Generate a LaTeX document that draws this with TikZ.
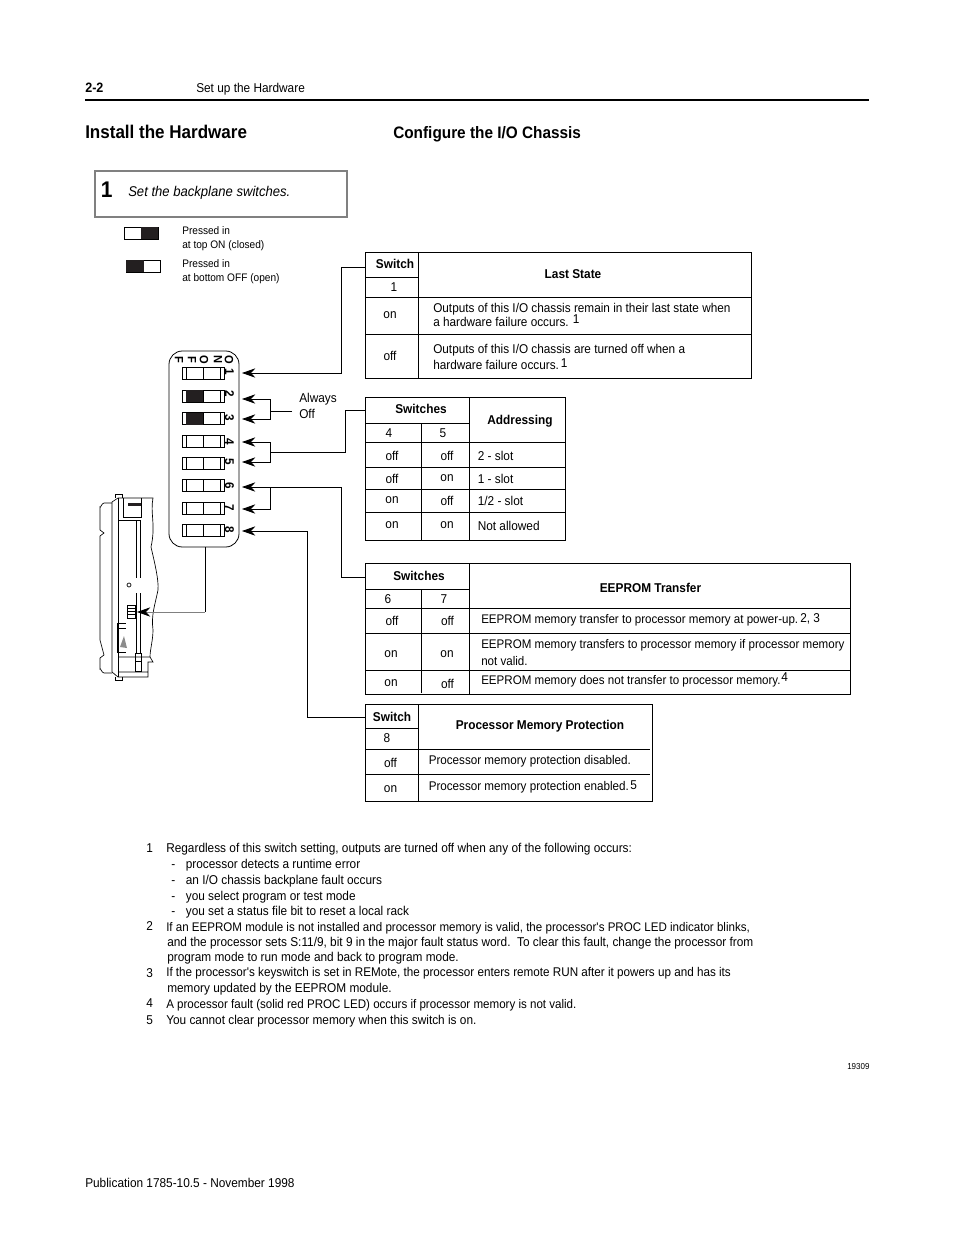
\documentclass[tikz,border=0pt]{standalone}
\usepackage{fontspec}
\setmainfont[FakeStretch=0.925]{Liberation Sans}
\usetikzlibrary{arrows.meta}
\definecolor{boxgray}{RGB}{128,128,128}
\definecolor{swdark}{RGB}{35,31,32}
\tikzset{
  txt/.style={anchor=west,inner sep=0pt,font=\fontsize{9.6}{11.6}\selectfont,align=left},
  hdr/.style={inner sep=0pt,font=\bfseries\fontsize{9.6}{11.6}\selectfont,align=center},
  cell/.style={inner sep=0pt,font=\fontsize{9.6}{11.6}\selectfont},
  note/.style={anchor=base west,inner sep=0pt,font=\fontsize{9.6}{11.6}\selectfont},
  tight/.style={font=\fontsize{9.38}{11.6}\selectfont},
  fnote/.style={anchor=base west,inner sep=0pt,font=\fontsize{9.6}{12}\selectfont},
  swnum/.style={inner sep=0pt,rotate=-90,font=\bfseries\fontsize{9.5}{10}\selectfont},
  swhead/.style={inner sep=0pt,rotate=-90,font=\bfseries\fontsize{9}{10}\selectfont},
  lnk/.style={line width=0.6pt,-{Stealth[length=10pt,width=7pt]}},
  plain/.style={line width=0.6pt},
  grid/.style={line width=0.6pt},
  thinline/.style={line width=0.5pt},
}
\begin{document}
\begin{tikzpicture}[x=0.75pt,y=0.75pt,yscale=-1,xscale=1]
	\useasboundingbox (0,0) rectangle (954,1235);
	% page head
	\node [anchor=base west,inner sep=0pt,font=\bfseries\fontsize{10.2}{11}\selectfont] (pagenum) at (85,92) {2-2};
	\node [note] (headline) at (196,92) {Set up the Hardware};
	\draw [line width=1.3pt] (85,100) -- (869,100);
	\node [anchor=base west,inner sep=0pt,font=\bfseries\fontsize{13.8}{16}\selectfont] (install) at (85,138.5) {Install the Hardware};
	\node [anchor=base west,inner sep=0pt,font=\bfseries\fontsize{12.45}{16}\selectfont] (configure) at (393,138.5) {Configure the I/O Chassis};
	% step box
	\draw [boxgray,line width=2pt] (95,171) rectangle (347,217);
	\node [anchor=base west,inner sep=0pt,font=\bfseries\fontsize{17}{20}\selectfont] (stepnum) at (100.5,197) {1};
	\node [note,font=\itshape\fontsize{10.6}{12}\selectfont] (steptxt) at (128,196) {Set the backplane switches.};
	% legend
	\draw [line width=0.7pt] (124,227) rectangle (158,239);
	\fill [swdark] (141,227) rectangle (158,239);
	\draw [line width=0.7pt] (126,260) rectangle (160,272);
	\fill [swdark] (126,260) rectangle (144,272);
	\node [txt,font=\fontsize{8.2}{10.5}\selectfont] (legon) at (182,238.5) {Pressed in\\at top ON (closed)};
	\node [txt,font=\fontsize{8.2}{10.5}\selectfont] (legoff) at (182,271.5) {Pressed in\\at bottom OFF (open)};
	% switch block
	\draw [plain,rounded corners=10pt] (169,351) rectangle (239,547);
	\foreach \l/\x [count=\i] in {O/229,N/218,O/204,F/192,F/179}{
		\node [swhead] (head\i) at (\x,360) {\l};
	}
	\foreach \n/\top/\ynum/\ytip in {1/367/372/373,2/390/394/399,3/412.5/418/419,4/435/442/442,5/457/462/462,6/479/486/487,7/502/508/509,8/524.5/530/531}{
		\draw [plain] (182,\top) rectangle (224,\top+12);
		\draw [plain] (186,\top) -- (186,\top+12) (203,\top) -- (203,\top+12) (220,\top) -- (220,\top+12);
		\node [swnum] (sw\n) at (229.5,\ynum) {\n};
		\coordinate (tip\n) at (242,\ytip);
	}
	\fill [swdark] (186,390) rectangle (203,402);
	\fill [swdark] (186,412.5) rectangle (203,424.5);
	% always off
	\node [txt,font=\fontsize{9.6}{12}\selectfont] (always) at (299,406) {Always\\Off};
	\coordinate (j23) at (270,411);
	\coordinate (offend) at (292,411);
	\draw [plain] (offend) -- (j23);
	\draw [lnk] (j23) |- (tip2);
	\draw [lnk] (j23) |- (tip3);
	% tables and their links
	\coordinate (t1) at (365.5,267);
	\coordinate (t2) at (365.5,410);
	\coordinate (t3) at (365.5,577);
	\coordinate (t4) at (365.5,717);
	\coordinate (j45) at (270,452);
	\coordinate (j67) at (270,487);
	\draw [lnk] (t1) -- (341,267) |- (tip1);
	\draw [plain] (t2) -- (345,410) |- (j45);
	\draw [lnk] (j45) |- (tip4);
	\draw [lnk] (j45) |- (tip5);
	\draw [lnk] (t3) -- (341,577) |- (tip6);
	\draw [lnk] (j67) |- (tip7);
	\draw [lnk] (t4) -- (307,717) |- (tip8);
	% Last State
	\draw [grid] (365.5,252.5) rectangle (751,378);
	\draw [grid] (418,252.5) -- (418,378) (365.5,277) -- (418,277) (365.5,297) -- (751,297) (365.5,334) -- (751,334);
	\node [hdr] (h1a) at (395,264) {Switch};
	\node [hdr] (h1b) at (573,274) {Last State};
	\node [cell] (c1a) at (394,287) {1};
	\node [cell] (c1b) at (390,315) {on};
	\node [cell] (c1c) at (390,356) {off};
	\node [txt,font=\fontsize{9.55}{10.9}\selectfont] (c1d) at (433,315) {Outputs of this I/O chassis remain in their last state when\\a hardware failure occurs.};
	\node [fnote] (f1a) at (572.5,323) {1};
	\node [txt,font=\fontsize{9.55}{12}\selectfont] (c1e) at (433,357) {Outputs of this I/O chassis are turned off when a\\hardware failure occurs.};
	\node [fnote] (f1b) at (560.5,367) {1};
	% Addressing
	\draw [grid] (365.5,397.5) rectangle (565,540);
	\draw [grid] (421,423) -- (421,540) (469,397.5) -- (469,540) (365.5,423) -- (469,423) (365.5,442) -- (565,442)
		(365.5,467) -- (565,467) (365.5,489) -- (565,489) (365.5,512) -- (565,512);
	\node [hdr] (h2a) at (421,409) {Switches};
	\node [hdr] (h2b) at (520,421) {Addressing};
	\node [cell] (c2a) at (389,433) {4};
	\node [cell] (c2b) at (443,433) {5};
	\foreach \y/\l/\r/\v [count=\i] in {455.5/off/off/{2 - slot},478.5/off/on/{1 - slot},500.5/on/off/{1/2 - slot},525.5/on/on/{Not allowed}}{
		\node [cell] (a\i l) at (392,\y) {\l};
		\node [cell] (a\i r) at (447,\y) {\r};
		\node [txt] (a\i v) at (477.5,\y) {\v};
	}
	% EEPROM Transfer
	\draw [grid] (365.5,563) rectangle (850.5,694);
	\draw [grid] (421,589) -- (421,693) (469,563) -- (469,694) (365.5,589) -- (469,589) (365.5,608) -- (850.5,608)
		(365.5,633) -- (850.5,633) (365.5,670.5) -- (850.5,670.5);
	\node [hdr] (h3a) at (419,576) {Switches};
	\node [hdr] (h3b) at (650.5,588) {EEPROM Transfer};
	\node [cell] (c3a) at (388,599.5) {6};
	\node [cell] (c3b) at (444,599.5) {7};
	\node [cell] (e1l) at (392,620.5) {off};
	\node [cell] (e1r) at (447.5,620.5) {off};
	\node [cell] (e2l) at (391,654) {on};
	\node [cell] (e2r) at (447,654) {on};
	\node [cell] (e3l) at (391,683.5) {on};
	\node [cell] (e3r) at (447.5,683.5) {off};
	\node [txt,tight] (e1v) at (481,620.5) {EEPROM memory transfer to processor memory at power-up.};
	\node [fnote] (f3a) at (800,622) {2, 3};
	\node [txt,font=\fontsize{9.38}{12.75}\selectfont] (e2v) at (481,653) {EEPROM memory transfers to processor memory if processor memory\\not valid.};
	\node [txt,tight] (e3v) at (481,681.5) {EEPROM memory does not transfer to processor memory.};
	\node [fnote] (f3b) at (781,681.5) {4};
	% Processor Memory Protection
	\draw [grid] (365.5,704) rectangle (652.5,801.5);
	\draw [grid] (418,704) -- (418,801.5) (365.5,728) -- (418,728) (365.5,749) -- (650,749) (365.5,774) -- (650,774);
	\node [hdr] (h4a) at (392,717) {Switch};
	\node [hdr] (h4b) at (540,726.5) {Processor Memory Protection};
	\node [cell] (c4a) at (387,738.5) {8};
	\node [cell] (p1l) at (390.5,762.5) {off};
	\node [cell] (p2l) at (390.5,789.5) {on};
	\node [txt,font=\fontsize{9.45}{11.6}\selectfont] (p1v) at (428.5,761) {Processor memory protection disabled.};
	\node [txt,font=\fontsize{9.45}{11.6}\selectfont] (p2v) at (428.5,787.5) {Processor memory protection enabled.};
	\node [fnote] (f4) at (630,789) {5};
	% chassis side view
	\draw [thinline] (112,503) -- (104,503) to[out=180,in=90] (100,507) -- (100,530) -- (104,533) -- (100,536) -- (100,640)
		-- (104,655) -- (100,658) -- (100,669) to[out=-90,in=180] (104,673) -- (112,673);
	\draw [thinline] (118,498) -- (112,502) -- (112,672) -- (118,677);
	\draw [thinline] (118,498) -- (118,677);
	\draw [thinline] (118,498) -- (153,498) .. controls (150,513) and (156,525) .. (151,547)
		.. controls (154,560) and (159,580) .. (158,590) .. controls (155,605) and (151,615) .. (153,630)
		.. controls (153,640) and (150,650) .. (150,657);
	\draw [thinline] (118,657) -- (150,657) -- (153,662) -- (148,662) -- (148,672) -- (118,672) (118,677) -- (148,677) -- (148,672);
	\draw [thinline] (123,498) -- (123,517) -- (141,517) -- (141,498) (118,520) -- (140,520) (136,520) -- (136,578) (140,520) -- (140,578);
	\fill [swdark] (128,503) rectangle (141,506);
	\draw [thinline] (115,498) -- (115,494) -- (122,494) -- (122,498);
	\draw [thinline] (115,677) -- (115,680) -- (122,680) -- (122,677);
	\draw [thinline] (136,593) -- (136,653) (140,593) -- (140,653) (135,653) rectangle (141,661) (135,661) rectangle (141,671);
	\draw [thinline] (129,585) circle (2);
	\draw [thinline] (127,605) rectangle (135,618) (127,608) -- (135,608) (127,611) -- (135,611) (127,614) -- (135,614);
	\draw [thinline] (121,623) -- (117,623) -- (117,652) -- (126,652) (117,628) -- (126,628) (121,623) -- (126,623);
	\fill [black!45] (120,647) -- (124,636) -- (127,648) -- cycle;
	\coordinate (blockbot) at (205,547);
	\coordinate (elbow) at (205,612);
	\coordinate (chassissw) at (137,612);
	\draw [plain] (blockbot) -- (elbow);
	\draw [gray,line width=0.6pt,-{Stealth[length=10pt,width=7pt,black]}] (elbow) -- (chassissw);
	% notes
	\node [note] (n1) at (146,852) {1};
	\node [note] (n1t) at (166,852.5) {Regardless of this switch setting, outputs are turned off when any of the following occurs:};
	\node [note] (n1a) at (171,868) {-\hspace{8pt}processor detects a runtime error};
	\node [note] (n1b) at (171,884) {-\hspace{8pt}an I/O chassis backplane fault occurs};
	\node [note] (n1c) at (171,900) {-\hspace{8pt}you select program or test mode};
	\node [note] (n1d) at (171,915) {-\hspace{8pt}you set a status file bit to reset a local rack};
	\node [note] (n2) at (146,930) {2};
	\node [note,tight] (n2t) at (166,931) {If an EEPROM module is not installed and processor memory is valid, the processor\textquotesingle s PROC LED indicator blinks,};
	\node [note] (n2u) at (167,946) {and the processor sets S:11/9, bit 9 in the major fault status word.\ \ To clear this fault, change the processor from};
	\node [note] (n2v) at (167,961) {program mode to run mode and back to program mode.};
	\node [note] (n3) at (146,977) {3};
	\node [note,font=\fontsize{9.47}{11.6}\selectfont] (n3t) at (166,976) {If the processor\textquotesingle s keyswitch is set in REMote, the processor enters remote RUN after it powers up and has its};
	\node [note] (n3u) at (167,992) {memory updated by the EEPROM module.};
	\node [note] (n4) at (146,1007) {4};
	\node [note,tight] (n4t) at (166,1008.5) {A processor fault (solid red PROC LED) occurs if processor memory is not valid.};
	\node [note] (n5) at (146,1024) {5};
	\node [note] (n5t) at (166,1024) {You cannot clear processor memory when this switch is on.};
	\node [note,font=\fontsize{6.5}{8}\selectfont] (figno) at (847,1069) {19309};
	\node [note] (pub) at (85,1187) {Publication 1785-10.5 - November 1998};
\end{tikzpicture}
\end{document}
